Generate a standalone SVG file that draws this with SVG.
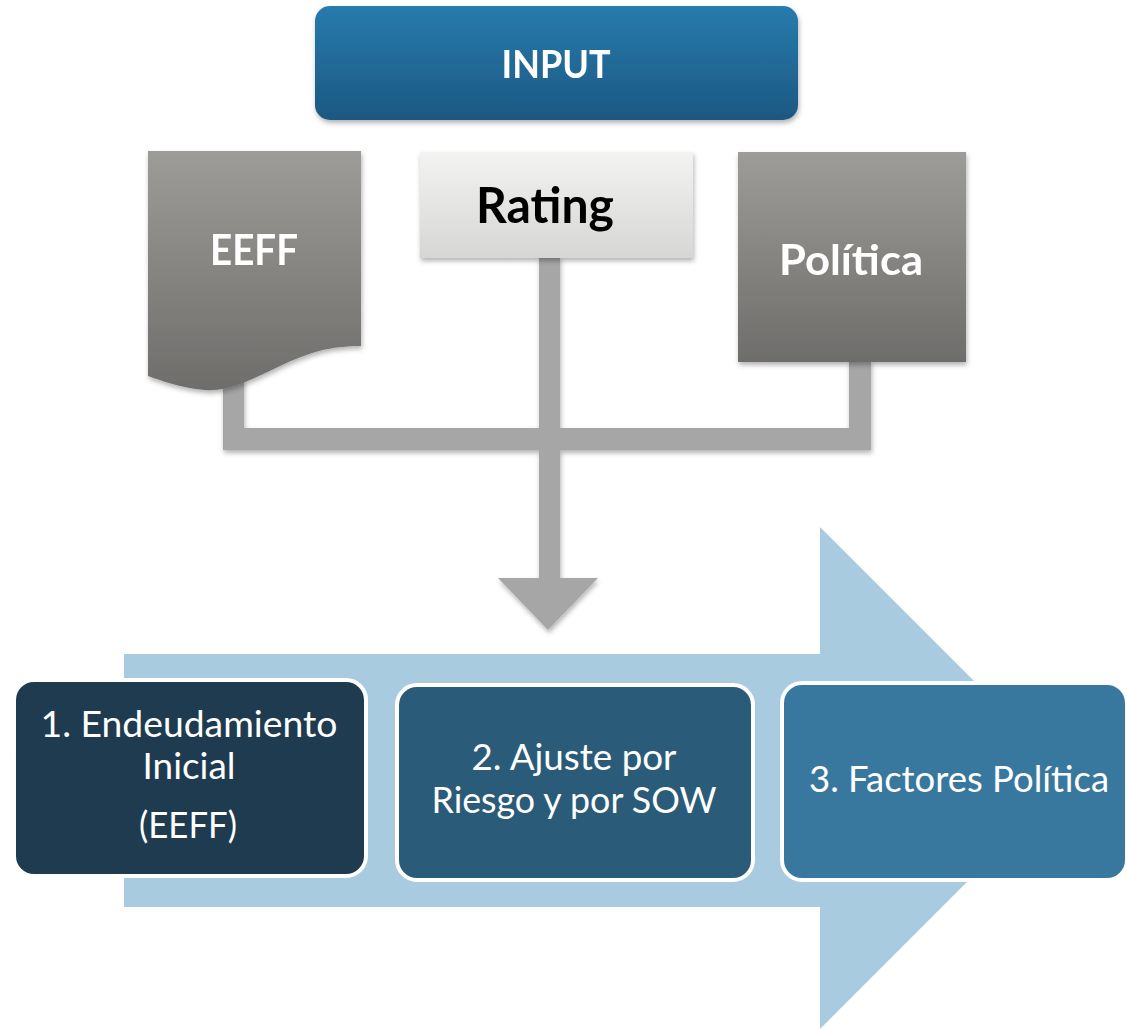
<svg xmlns="http://www.w3.org/2000/svg" width="1127" height="1029" viewBox="0 0 1127 1029">
<style>
.lbl{font-family:Lato,"Open Sans","Liberation Sans",sans-serif;text-anchor:middle}
.b{font-weight:bold}
.w{fill:#ffffff}
.k{fill:#000000}
.conn{fill:#a6a6a6}
.step{stroke:#ffffff;stroke-width:4}
</style>
<defs>
<linearGradient id="gBlue" x1="0" y1="0" x2="0" y2="1">
<stop offset="0" stop-color="#277bad"/><stop offset="1" stop-color="#1c5882"/>
</linearGradient>
<linearGradient id="gGray" x1="0" y1="0" x2="0" y2="1">
<stop offset="0" stop-color="#9e9c98"/><stop offset="1" stop-color="#6e6d6b"/>
</linearGradient>
<linearGradient id="gLight" x1="0" y1="0" x2="0" y2="1">
<stop offset="0" stop-color="#f3f3f1"/><stop offset="1" stop-color="#d6d6d5"/>
</linearGradient>
<filter id="sh" x="-10%" y="-10%" width="120%" height="130%">
<feDropShadow dx="1" dy="3" stdDeviation="2.5" flood-color="#000" flood-opacity="0.3"/>
</filter>
</defs>

<g id="flow-arrow">
<polygon points="124,654 820,654 820,527 1071,778 820,1029 820,907 124,907" fill="#a9cbe0"/>
</g>

<g id="connectors" filter="url(#sh)">
<rect class="conn" x="223" y="380" width="21" height="70"/>
<rect class="conn" x="539" y="256" width="21" height="174"/>
<rect class="conn" x="849" y="360" width="22" height="90"/>
<rect class="conn" x="223" y="428" width="648" height="22"/>
<rect class="conn" x="539" y="448" width="21" height="132"/>
<polygon class="conn" points="498,578 598,578 548,630"/>
</g>

<g id="input" filter="url(#sh)">
<rect x="315" y="6" width="483" height="114" rx="15" fill="url(#gBlue)"/>
<text class="lbl b w" x="556" y="78" font-size="38" textLength="109" lengthAdjust="spacingAndGlyphs">INPUT</text>
</g>

<g id="eeff" filter="url(#sh)">
<path d="M148,151 H361 V346 C330,346 310,352 280,366 C250,380 230,392 205,390 C180,388 160,380 148,376 Z" fill="url(#gGray)"/>
<text class="lbl b w" x="254" y="265" font-size="42" textLength="88" lengthAdjust="spacingAndGlyphs">EEFF</text>
</g>

<g id="rating" filter="url(#sh)">
<rect x="420" y="152" width="273" height="106" fill="url(#gLight)"/>
<text class="lbl b k" x="545" y="223" font-size="50" textLength="138" lengthAdjust="spacingAndGlyphs">Rating</text>
</g>

<g id="politica" filter="url(#sh)">
<rect x="738" y="152" width="228" height="210" fill="url(#gGray)"/>
<text class="lbl b w" x="851" y="275" font-size="42" textLength="144" lengthAdjust="spacingAndGlyphs">Política</text>
</g>

<g id="step1">
<rect class="step" x="14" y="680" width="352" height="196" rx="20" fill="#1e3b4f"/>
<text class="lbl w" x="189" y="737" font-size="36" textLength="297" lengthAdjust="spacingAndGlyphs">1. Endeudamiento</text>
<text class="lbl w" x="189" y="779" font-size="36" textLength="93" lengthAdjust="spacingAndGlyphs">Inicial</text>
<text class="lbl w" x="188" y="838" font-size="36" textLength="98" lengthAdjust="spacingAndGlyphs">(EEFF)</text>
</g>

<g id="step2">
<rect class="step" x="397" y="685" width="356" height="195" rx="20" fill="#2a5b78"/>
<text class="lbl w" x="574" y="770" font-size="36" textLength="205" lengthAdjust="spacingAndGlyphs">2. Ajuste por</text>
<text class="lbl w" x="574" y="813" font-size="36" textLength="285" lengthAdjust="spacingAndGlyphs">Riesgo y por SOW</text>
</g>

<g id="step3">
<rect class="step" x="782" y="683" width="345" height="197" rx="20" fill="#39789e"/>
<text class="lbl w" x="959" y="792" font-size="36" textLength="300" lengthAdjust="spacingAndGlyphs">3. Factores Política</text>
</g>
</svg>
